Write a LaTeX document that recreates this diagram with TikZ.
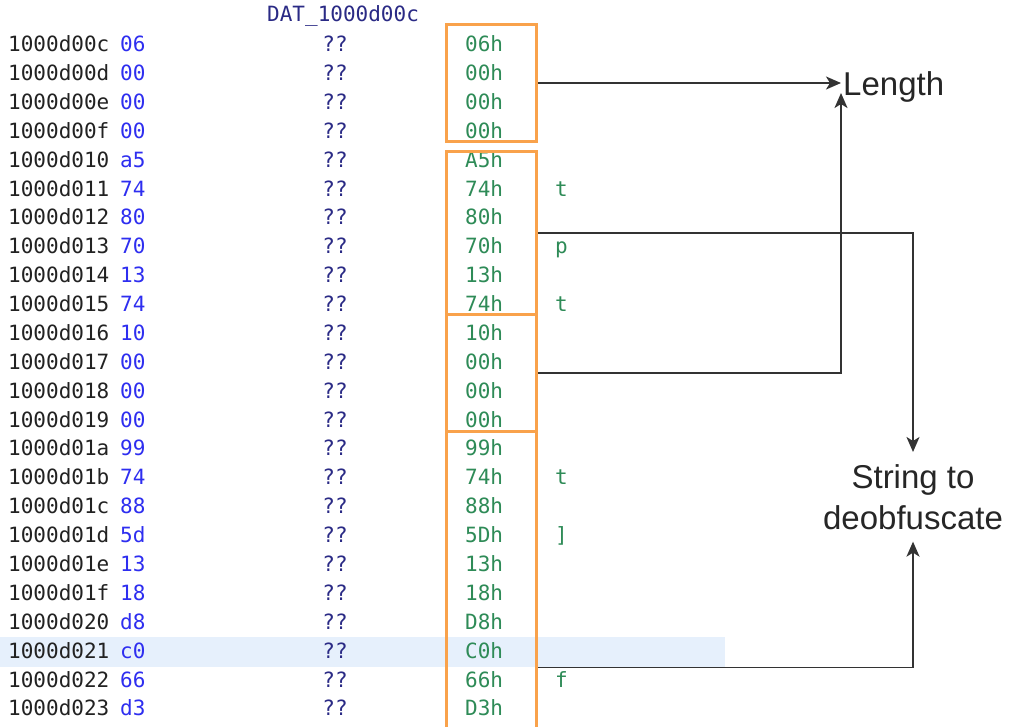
\documentclass[tikz,border=0pt]{standalone}
\usepackage{fontspec}
\setmainfont{Liberation Sans}
\newfontfamily\hexfont{DejaVu Sans Mono}
\usetikzlibrary{
  arrows.meta
}
\definecolor{lstAddr}{HTML}{222222}
\definecolor{lstByte}{HTML}{2E2EF0}
\definecolor{lstNavy}{HTML}{2A2A85}
\definecolor{lstGreen}{HTML}{2E8B57}
\definecolor{lstOrange}{HTML}{F9A24B}
\definecolor{lstSel}{HTML}{E6F0FC}
\definecolor{lstInk}{HTML}{333333}
\tikzset{
  mono/.style={font=\hexfont\fontsize{21}{25}\selectfont, inner sep=0pt},
  addr/.style={mono, text=lstAddr, anchor=mid west},
  byte/.style={mono, text=lstByte, anchor=mid west},
  unk/.style={mono, text=lstNavy, anchor=mid},
  hexval/.style={mono, text=lstGreen, anchor=mid west},
  ascii/.style={mono, text=lstGreen, anchor=mid west},
  label/.style={mono, text=lstNavy, anchor=mid west},
  fieldbox/.style={draw=lstOrange, line width=3pt, anchor=north west,
    minimum width=90pt, inner sep=0pt},
  rowsel/.style={fill=lstSel, anchor=north west, inner sep=0pt,
    minimum width=725pt, minimum height=30pt},
  callout/.style={font=\fontsize{33}{41}\selectfont, text=black!85},
  arrow/.style={-{Stealth[length=15pt,width=13pt,inset=4pt]}, line width=1.8pt, draw=lstInk}
}

\begin{document}
\begin{tikzpicture}[x=1pt,y=-1pt]

\fill[white] (0,0) rectangle (1024,726);
\useasboundingbox (0,0) rectangle (1024,726);
\clip (0,0) rectangle (1024,726);

% --------------------------------------------------------------------------
% Listing
% --------------------------------------------------------------------------
\node[rowsel] (sel) at (0,637) {};

\node[label] (dat) at (267,18.5) {DAT\_1000d00c};

\foreach \i/\ad/\by/\va in {
  0/1000d00c/06/06h, 1/1000d00d/00/00h, 2/1000d00e/00/00h, 3/1000d00f/00/00h,
  4/1000d010/a5/A5h, 5/1000d011/74/74h, 6/1000d012/80/80h, 7/1000d013/70/70h,
  8/1000d014/13/13h, 9/1000d015/74/74h, 10/1000d016/10/10h, 11/1000d017/00/00h,
  12/1000d018/00/00h, 13/1000d019/00/00h, 14/1000d01a/99/99h, 15/1000d01b/74/74h,
  16/1000d01c/88/88h, 17/1000d01d/5d/5Dh, 18/1000d01e/13/13h, 19/1000d01f/18/18h,
  20/1000d020/d8/D8h, 21/1000d021/c0/C0h, 22/1000d022/66/66h, 23/1000d023/d3/D3h}{
  \pgfmathsetmacro\yy{49+28.88*\i}
  \node[addr] (a\i) at (8,\yy) {\ad};
  \node[byte] (b\i) at (120,\yy) {\by};
  \node[unk] (q\i) at (335,\yy) {??};
  \node[hexval] (v\i) at (465,\yy) {\va};
}

\foreach \i/\ch in {5/t, 7/p, 9/t, 15/t, 17/], 22/f}{
  \pgfmathsetmacro\yy{49+28.88*\i}
  \node[ascii] (c\i) at (555,\yy) {\ch};
}

% --------------------------------------------------------------------------
% Fields
% --------------------------------------------------------------------------
\node[fieldbox, minimum height=117pt] (lenA) at (445,23) {};
\node[fieldbox, minimum height=163pt] (strA) at (445,150) {};
\node[fieldbox, minimum height=117pt] (lenB) at (445,313) {};
\node[fieldbox, minimum height=320pt] (strB) at (445,430) {};

% --------------------------------------------------------------------------
% Callouts
% --------------------------------------------------------------------------
\node[callout, anchor=base west, inner sep=2pt] (length) at (841,95) {Length};
\coordinate (lenfoot) at (841,93);

\node[callout, align=center, anchor=north, inner sep=12pt] (string) at (913,452)
  {String to\\deobfuscate};

\draw[arrow] (lenA.east) -- (lenA.east -| length.west);
\draw[arrow] (lenB.east) -| (lenfoot);
\draw[arrow] (strA.east) -| (string.north);
\draw[arrow] (strB.east |- sel.south) -| (string.south);

\end{tikzpicture}
\end{document}
